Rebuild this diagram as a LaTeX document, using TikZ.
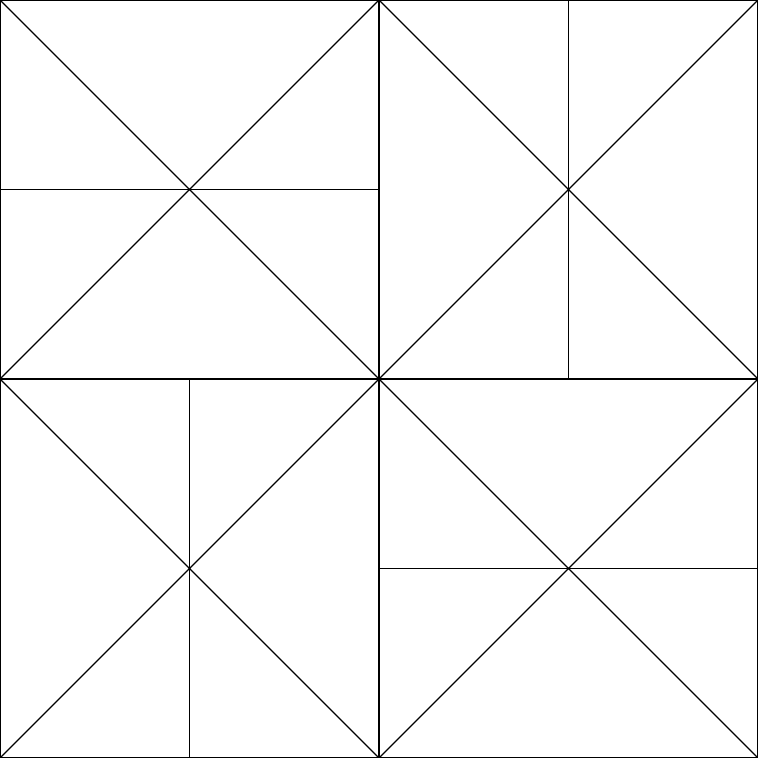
\documentclass[tikz,border=0pt]{standalone}
\begin{document}
\begin{tikzpicture}[scale=2, line join=round, line cap=round]
			\useasboundingbox (0,0) rectangle (4,4);
			\draw (0,0) rectangle (4,4);
			\draw (2,0)--(2,4) (0,2)--(4,2);
			\foreach \i in {0,2}
			\foreach \j in {0,2}
			\draw (\i,\j)--(\i+2,\j+2) (\i,\j+2)--(\i+2,\j);
			\draw (0,3)--(2,3);
			\draw (3,2)--(3,4);
			\draw (1,0)--(1,2);
			\draw (2,1)--(4,1);
			\end{tikzpicture}
\end{document}
